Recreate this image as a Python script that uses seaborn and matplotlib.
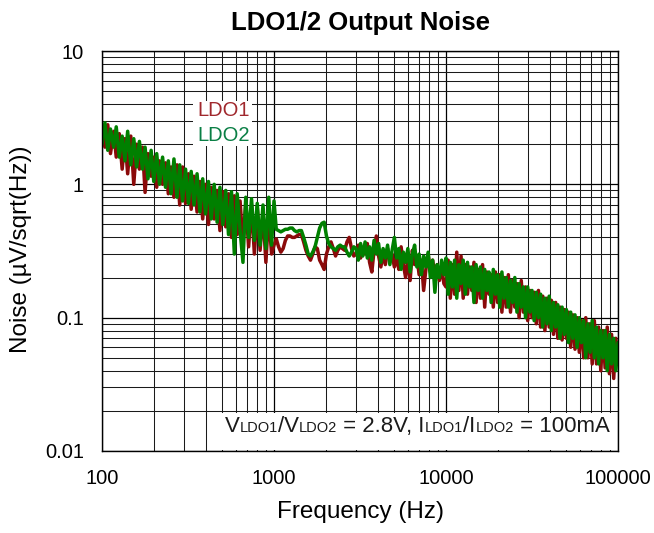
import matplotlib
matplotlib.use("Agg")
import matplotlib.pyplot as plt
from matplotlib.patches import Rectangle
from matplotlib.ticker import LogLocator, NullFormatter
from matplotlib.offsetbox import TextArea, HPacker, AnchoredOffsetbox
import pandas as pd
import seaborn as sns

# ---- measured spectral noise density, split by band (Hz, uV/sqrt(Hz)) ----
freq_low = [100, 104, 108, 112, 117, 121, 126, 131, 136, 141,
            147, 153, 159, 165, 172, 178, 185, 193, 200, 208,
            216, 225, 234, 243, 252, 262, 273, 283, 294, 306,
            318, 330, 343, 357, 371, 385, 400, 416, 432, 449,
            467, 485, 504, 524, 544, 566, 588, 611, 635, 660,
            685, 712, 740, 769, 799, 830, 863, 897, 932, 968]
ldo1_low = [2.6, 1.9, 2.8, 1.7, 2.5, 1.6, 2.4, 1.3, 2.2, 1.2,
            2.3, 1.0, 2.0, 1.3, 1.9, 0.87, 1.7, 1.15, 1.6, 0.95,
            1.5, 1.0, 1.45, 0.85, 1.35, 0.8, 1.4, 0.7, 1.35, 0.72,
            1.2, 0.65, 1.15, 0.62, 1.05, 0.55, 1.0, 0.5, 0.95, 0.55,
            0.9, 0.45, 0.88, 0.48, 0.85, 0.4, 0.82, 0.42, 0.75, 0.36,
            0.72, 0.34, 0.7, 0.3, 0.68, 0.32, 0.62, 0.26, 0.6, 0.3]
ldo2_low = [2.0, 2.9, 1.8, 2.6, 1.9, 2.7, 1.6, 2.3, 1.5, 2.5,
            1.4, 2.2, 1.35, 2.1, 1.3, 1.9, 1.1, 1.8, 1.05, 1.7,
            1.0, 1.6, 0.95, 1.5, 0.85, 1.55, 0.8, 1.4, 0.75, 1.3,
            0.72, 1.25, 0.7, 1.2, 0.62, 1.1, 0.6, 1.05, 0.55, 1.0,
            0.52, 0.95, 0.5, 0.9, 0.42, 0.88, 0.3, 0.85, 0.45, 0.26,
            0.8, 0.4, 0.78, 0.38, 0.72, 0.35, 0.7, 0.33, 0.8, 0.35]

freq_mid = [1000, 1031, 1063, 1096, 1130, 1165, 1201, 1238, 1277, 1316,
            1357, 1399, 1443, 1487, 1533, 1581, 1630, 1680, 1732, 1786,
            1842, 1899, 1957, 2018, 2081, 2145, 2212, 2280, 2351, 2424,
            2499, 2576, 2656, 2738, 2823, 2911]
ldo1_mid = [0.35, 0.39, 0.34, 0.31, 0.33, 0.38, 0.41, 0.41, 0.40, 0.40,
            0.41, 0.42, 0.42, 0.37, 0.32, 0.29, 0.27, 0.30, 0.34, 0.33,
            0.27, 0.25, 0.23, 0.30, 0.34, 0.37, 0.33, 0.29, 0.32, 0.34,
            0.33, 0.32, 0.37, 0.40, 0.33, 0.29]
ldo2_mid = [0.75, 0.46, 0.45, 0.44, 0.45, 0.46, 0.46, 0.47, 0.47, 0.45,
            0.44, 0.45, 0.45, 0.40, 0.35, 0.30, 0.29, 0.31, 0.34, 0.40,
            0.47, 0.51, 0.52, 0.41, 0.36, 0.34, 0.33, 0.32, 0.34, 0.35,
            0.34, 0.34, 0.31, 0.29, 0.31, 0.34]

freq_upper = [3000, 3092, 3187, 3284, 3385, 3488, 3595, 3705, 3818, 3935,
              4056, 4180, 4308, 4440, 4575, 4716, 4860, 5009, 5162, 5320,
              5483, 5651, 5824, 6002, 6186, 6375, 6570, 6771, 6978, 7192,
              7412, 7639, 7873, 8114, 8362, 8618, 8881, 9153, 9433, 9722]
ldo1_upper = [0.30, 0.35, 0.28, 0.33, 0.30, 0.36, 0.26, 0.22, 0.32, 0.41,
              0.29, 0.24, 0.30, 0.25, 0.33, 0.27, 0.30, 0.24, 0.28, 0.23,
              0.34, 0.25, 0.20, 0.28, 0.19, 0.32, 0.25, 0.29, 0.21, 0.27,
              0.16, 0.23, 0.30, 0.22, 0.27, 0.21, 0.25, 0.19, 0.24, 0.18]
ldo2_upper = [0.33, 0.27, 0.36, 0.29, 0.37, 0.28, 0.34, 0.27, 0.38, 0.30,
              0.36, 0.26, 0.33, 0.28, 0.35, 0.25, 0.32, 0.40, 0.28, 0.33,
              0.23, 0.31, 0.26, 0.33, 0.22, 0.30, 0.35, 0.24, 0.30, 0.21,
              0.29, 0.24, 0.31, 0.20, 0.27, 0.155, 0.25, 0.20, 0.27, 0.21]

freq_high = [10000, 10292, 10593, 10902, 11220, 11548, 11885, 12232, 12589, 12957,
             13335, 13725, 14125, 14538, 14962, 15399, 15849, 16312, 16788, 17278,
             17783, 18302, 18836, 19387, 19953, 20535, 21135, 21752, 22387, 23041,
             23714, 24406, 25119, 25852, 26607, 27384, 28184, 29007, 29854, 30726,
             31623, 32546, 33497, 34475, 35481, 36517, 37584, 38681, 39811, 40973,
             42170, 43401, 44668, 45973, 47315, 48697, 50119, 51582, 53088, 54639,
             56234, 57876, 59566, 61306, 63096, 64938, 66834, 68786, 70795, 72862,
             74989, 77179, 79433, 81752, 84140, 86596, 89125, 91728, 94406, 97163,
             100000]
ldo1_high = [0.17, 0.27, 0.14, 0.25, 0.15, 0.31, 0.16, 0.29, 0.14, 0.25,
             0.15, 0.24, 0.16, 0.26, 0.13, 0.23, 0.14, 0.25, 0.12, 0.22,
             0.15, 0.21, 0.12, 0.22, 0.13, 0.21, 0.11, 0.20, 0.12, 0.21,
             0.11, 0.19, 0.12, 0.18, 0.10, 0.19, 0.11, 0.17, 0.095, 0.16,
             0.10, 0.155, 0.09, 0.16, 0.085, 0.145, 0.08, 0.14, 0.085, 0.135,
             0.075, 0.13, 0.07, 0.12, 0.068, 0.115, 0.07, 0.11, 0.06, 0.105,
             0.058, 0.10, 0.055, 0.095, 0.05, 0.10, 0.05, 0.09, 0.045, 0.095,
             0.045, 0.085, 0.04, 0.08, 0.042, 0.085, 0.038, 0.075, 0.035, 0.07,
             0.045]
ldo2_high = [0.28, 0.15, 0.26, 0.17, 0.27, 0.14, 0.25, 0.18, 0.27, 0.15,
             0.26, 0.17, 0.24, 0.13, 0.25, 0.16, 0.24, 0.14, 0.23, 0.16,
             0.22, 0.13, 0.23, 0.15, 0.21, 0.12, 0.22, 0.14, 0.20, 0.12,
             0.19, 0.13, 0.20, 0.11, 0.18, 0.12, 0.17, 0.10, 0.17, 0.11,
             0.16, 0.095, 0.155, 0.10, 0.15, 0.085, 0.14, 0.09, 0.145, 0.08,
             0.13, 0.085, 0.125, 0.07, 0.12, 0.075, 0.115, 0.065, 0.11, 0.07,
             0.105, 0.06, 0.10, 0.065, 0.095, 0.05, 0.09, 0.055, 0.095, 0.05,
             0.085, 0.045, 0.08, 0.05, 0.08, 0.04, 0.075, 0.045, 0.07, 0.04,
             0.065]

rails = ["LDO1", "LDO2"]
line_colors = {"LDO1": "#8b0a0a", "LDO2": "#008000"}
label_colors = {"LDO1": "#a0282d", "LDO2": "#0a7f45"}
x_ticks = [100, 1000, 10000, 100000]
x_tick_labels = ["100", "1000", "10000", "100000"]
y_ticks = [0.01, 0.1, 1, 10]
y_tick_labels = ["0.01", "0.1", "1", "10"]

freq_hz = freq_low + freq_mid + freq_upper + freq_high
ldo1_noise = ldo1_low + ldo1_mid + ldo1_upper + ldo1_high
ldo2_noise = ldo2_low + ldo2_mid + ldo2_upper + ldo2_high

df = pd.DataFrame({
    "Frequency (Hz)": freq_hz + freq_hz,
    "Noise": ldo1_noise + ldo2_noise,
    "Rail": ["LDO1"] * len(freq_hz) + ["LDO2"] * len(freq_hz),
})

sns.set_theme(style="white")
plt.rcParams["font.family"] = ["Liberation Sans", "DejaVu Sans"]
plt.rcParams["text.color"] = "black"

fig = plt.figure(figsize=(6.54, 5.33), dpi=100)
ax = fig.add_axes([102 / 654, 82 / 533, 516 / 654, 400 / 533])

sns.lineplot(data=df, x="Frequency (Hz)", y="Noise", hue="Rail",
             hue_order=rails, palette=line_colors, estimator=None,
             sort=False, linewidth=2.5, legend=False, ax=ax)

ax.set(xscale="log", yscale="log", xlim=(100, 1e5), ylim=(0.01, 10))
ax.set_xticks(x_ticks, x_tick_labels)
ax.set_yticks(y_ticks, y_tick_labels)
for axis in (ax.xaxis, ax.yaxis):
    axis.set_minor_locator(LogLocator(base=10, subs=range(2, 10), numticks=50))
    axis.set_minor_formatter(NullFormatter())

ax.grid(True, which="major", color="black", linewidth=0.9)
ax.grid(True, which="minor", color="#1a1a1a", linewidth=0.75)
ax.set_axisbelow(True)
ax.tick_params(which="both", length=0, labelsize=14.5, labelcolor="black", pad=13)
for spine in ax.spines.values():
    spine.set_visible(True)
    spine.set_color("black")
    spine.set_linewidth(1.0)

ax.set_xlabel("Frequency (Hz)", fontsize=17.5, labelpad=9.5, color="black")
ax.set_ylabel("")
fig.text(21 / 654, 1 - 249 / 533, "Noise (µV/sqrt(Hz))", rotation=90,
         ha="center", va="center", fontsize=17.5, color="black")
ax.set_title("LDO1/2 Output Noise", fontsize=18.5, fontweight="bold",
             pad=15, color="black")

# series key: coloured names on a white patch
ax.add_patch(Rectangle((0.176, 0.7625), 0.114, 0.1125, transform=ax.transAxes,
                       facecolor="white", edgecolor="none", zorder=1.5))
for i, rail in enumerate(rails):
    ax.text(0.184, 0.851 - i * 0.0615, rail, color=label_colors[rail],
            fontsize=14.5, ha="left", va="center", transform=ax.transAxes, zorder=4)

# test-condition note along the bottom
ax.add_patch(Rectangle((0.207, 0.0025), 0.789, 0.0925, transform=ax.transAxes,
                       facecolor="white", edgecolor="none", zorder=1.5))
big, small = 16, 10.5
parts = [("V", big), ("LDO1", small), ("/V", big), ("LDO2", small),
         (" = 2.8V, I", big), ("LDO1", small), ("/I", big), ("LDO2", small),
         (" = 100mA", big)]
note = HPacker(children=[TextArea(t, textprops=dict(fontsize=s, color="#1a1a1a"))
                         for t, s in parts],
               align="baseline", pad=0, sep=0)
ax.add_artist(AnchoredOffsetbox(loc="center", child=note, pad=0, borderpad=0,
                                frameon=False, bbox_to_anchor=(0.611, 0.062),
                                bbox_transform=ax.transAxes))

fig.savefig("out.png", dpi=100)
